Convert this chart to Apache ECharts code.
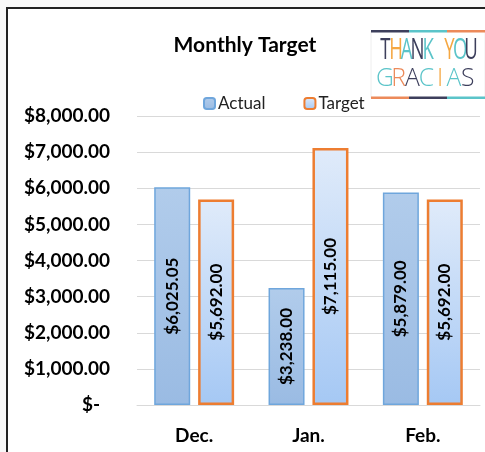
<!DOCTYPE html>
<html lang="en">
<head>
    <meta charset="UTF-8">
    <title>Monthly Target</title>
    <script src="https://cdn.jsdelivr.net/npm/echarts@6/dist/echarts.min.js"></script>
    <style>
        body {
            margin: 0;
            background-color: #f8f8f8;
            overflow: hidden;
        }
        #chart {
            position: absolute;
            left: 6px;
            top: 7px;
            width: 477px;
            height: 443px;
            background-color: #ffffff;
            border-left: 2px solid #222;
            border-top: 2px solid #222;
        }
    </style>
</head>
<body>
<div id="chart"></div>
<script>
    // 数据
    var months = ['Dec.', 'Jan.', 'Feb.'];
    var actualData = [6025.05, 3238, 5879];
    var targetData = [5692, 7115, 5692];
    var yMax = 8000;
    var yStep = 1000;

    var FONT = 'Lato, "Noto Sans", sans-serif';
    var OX = 8, OY = 9; // 图表容器相对页面的偏移

    function money(v) {
        if (v === 0) return '$-';
        return '$' + v.toLocaleString('en-US', {minimumFractionDigits: 2, maximumFractionDigits: 2});
    }

    var chart = echarts.init(document.getElementById('chart'));

    // 右上角 Thank you 标志
    var navy = '#3d3f5c', teal = '#5bc4c9', orange = '#f5a742', coral = '#ec8a5a';
    var thank = [['T', navy], ['H', orange], ['A', teal], ['N', navy], ['K', teal], [' ', navy], ['Y', orange], ['O', teal], ['U', navy]];
    var gracias = [['G', teal], ['R', coral], ['A', navy], ['C', teal], ['I', orange], ['A', teal], ['S', navy]];
    var logo = [];
    function addWord(letters, x0, y, step, size, sx, weight) {
        letters.forEach(function (l, i) {
            if (l[0] === ' ') return;
            logo.push({
                type: 'text', x: x0 + (i + 0.5) * step - OX, y: y - OY,
                scaleX: sx,
                style: {
                    text: l[0], fill: l[1], align: 'center', verticalAlign: 'middle',
                    font: weight + ' ' + size + 'px "Open Sans", sans-serif'
                }
            });
        });
    }
    logo.push({type: 'rect', shape: {x: 371 - OX, y: 31 - OY, width: 114, height: 67}, style: {fill: '#fff', stroke: '#eeeeee', lineWidth: 1}});
    logo.push({type: 'rect', shape: {x: 371 - OX, y: 30 - OY, width: 38, height: 2.5}, style: {fill: navy}});
    logo.push({type: 'rect', shape: {x: 409 - OX, y: 30 - OY, width: 38, height: 2.5}, style: {fill: teal}});
    logo.push({type: 'rect', shape: {x: 447 - OX, y: 30 - OY, width: 40, height: 2.5}, style: {fill: coral}});
    logo.push({type: 'rect', shape: {x: 371 - OX, y: 96.5 - OY, width: 38, height: 2.5}, style: {fill: coral}});
    logo.push({type: 'rect', shape: {x: 409 - OX, y: 96.5 - OY, width: 38, height: 2.5}, style: {fill: navy}});
    logo.push({type: 'rect', shape: {x: 447 - OX, y: 96.5 - OY, width: 40, height: 2.5}, style: {fill: teal}});
    addWord(thank, 380, 50, 10.7, 30, 0.62, 400);
    addWord(gracias, 378, 79, 13.8, 26, 0.95, 300);

    var option = {
        backgroundColor: '#ffffff',
        animation: false,
        title: {
            text: 'Monthly Target',
            left: 240 - OX, top: 30 - OY,
            textAlign: 'center',
            textStyle: {fontFamily: FONT, fontSize: 21, fontWeight: 'bold', color: '#000'}
        },
        legend: {
            left: 203 - OX, top: 95 - OY,
            padding: 0,
            itemWidth: 11, itemHeight: 11,
            itemGap: 38,
            textStyle: {fontFamily: FONT, fontSize: 17, color: '#222', padding: [0, 0, 0, -2]},
            data: ['Actual', 'Target']
        },
        grid: {left: 137 - OX, right: 5, top: 116 - OY, bottom: 452 - 405},
        xAxis: {
            type: 'category',
            data: months,
            axisLine: {lineStyle: {color: '#d9d9d9'}},
            axisTick: {show: false},
            axisLabel: {margin: 21, fontFamily: FONT, fontSize: 19, fontWeight: 'bold', color: '#000'}
        },
        yAxis: {
            type: 'value',
            min: 0, max: yMax, interval: yStep,
            splitLine: {lineStyle: {color: '#d9d9d9'}},
            axisLabel: {
                margin: 27,
                fontFamily: FONT, fontSize: 19, fontWeight: 'bold', color: '#000',
                formatter: function (v) {
                    return v === 0 ? '{z|$-}' : money(v);
                },
                rich: {z: {fontFamily: FONT, fontSize: 19, fontWeight: 'bold', color: '#000', padding: [0, 10, 0, 0]}}
            }
        },
        series: [
            {
                name: 'Actual',
                type: 'bar',
                data: actualData,
                barWidth: 36,
                barGap: '22%',
                itemStyle: {
                    color: new echarts.graphic.LinearGradient(0, 0, 0, 1, [
                        {offset: 0, color: '#b1cceb'},
                        {offset: 1, color: '#9abbe3'}
                    ]),
                    borderColor: '#6fa6dc',
                    borderWidth: 1.5
                },
                label: {
                    show: true, position: 'inside', rotate: 90,
                    fontFamily: FONT, fontSize: 17, fontWeight: 'bold', color: '#000',
                    formatter: function (p) { return money(p.value); }
                }
            },
            {
                name: 'Target',
                type: 'bar',
                data: targetData,
                barWidth: 36,
                itemStyle: {
                    color: new echarts.graphic.LinearGradient(0, 0, 0, 1, [
                        {offset: 0, color: '#e0ebfa'},
                        {offset: 1, color: '#a5c8f4'}
                    ]),
                    borderColor: '#ed7d31',
                    borderWidth: 2.5
                },
                label: {
                    show: true, position: 'inside', rotate: 90,
                    fontFamily: FONT, fontSize: 17, fontWeight: 'bold', color: '#000',
                    formatter: function (p) { return money(p.value); }
                }
            }
        ],
        graphic: logo
    };

    chart.setOption(option);
</script>
</body>
</html>
